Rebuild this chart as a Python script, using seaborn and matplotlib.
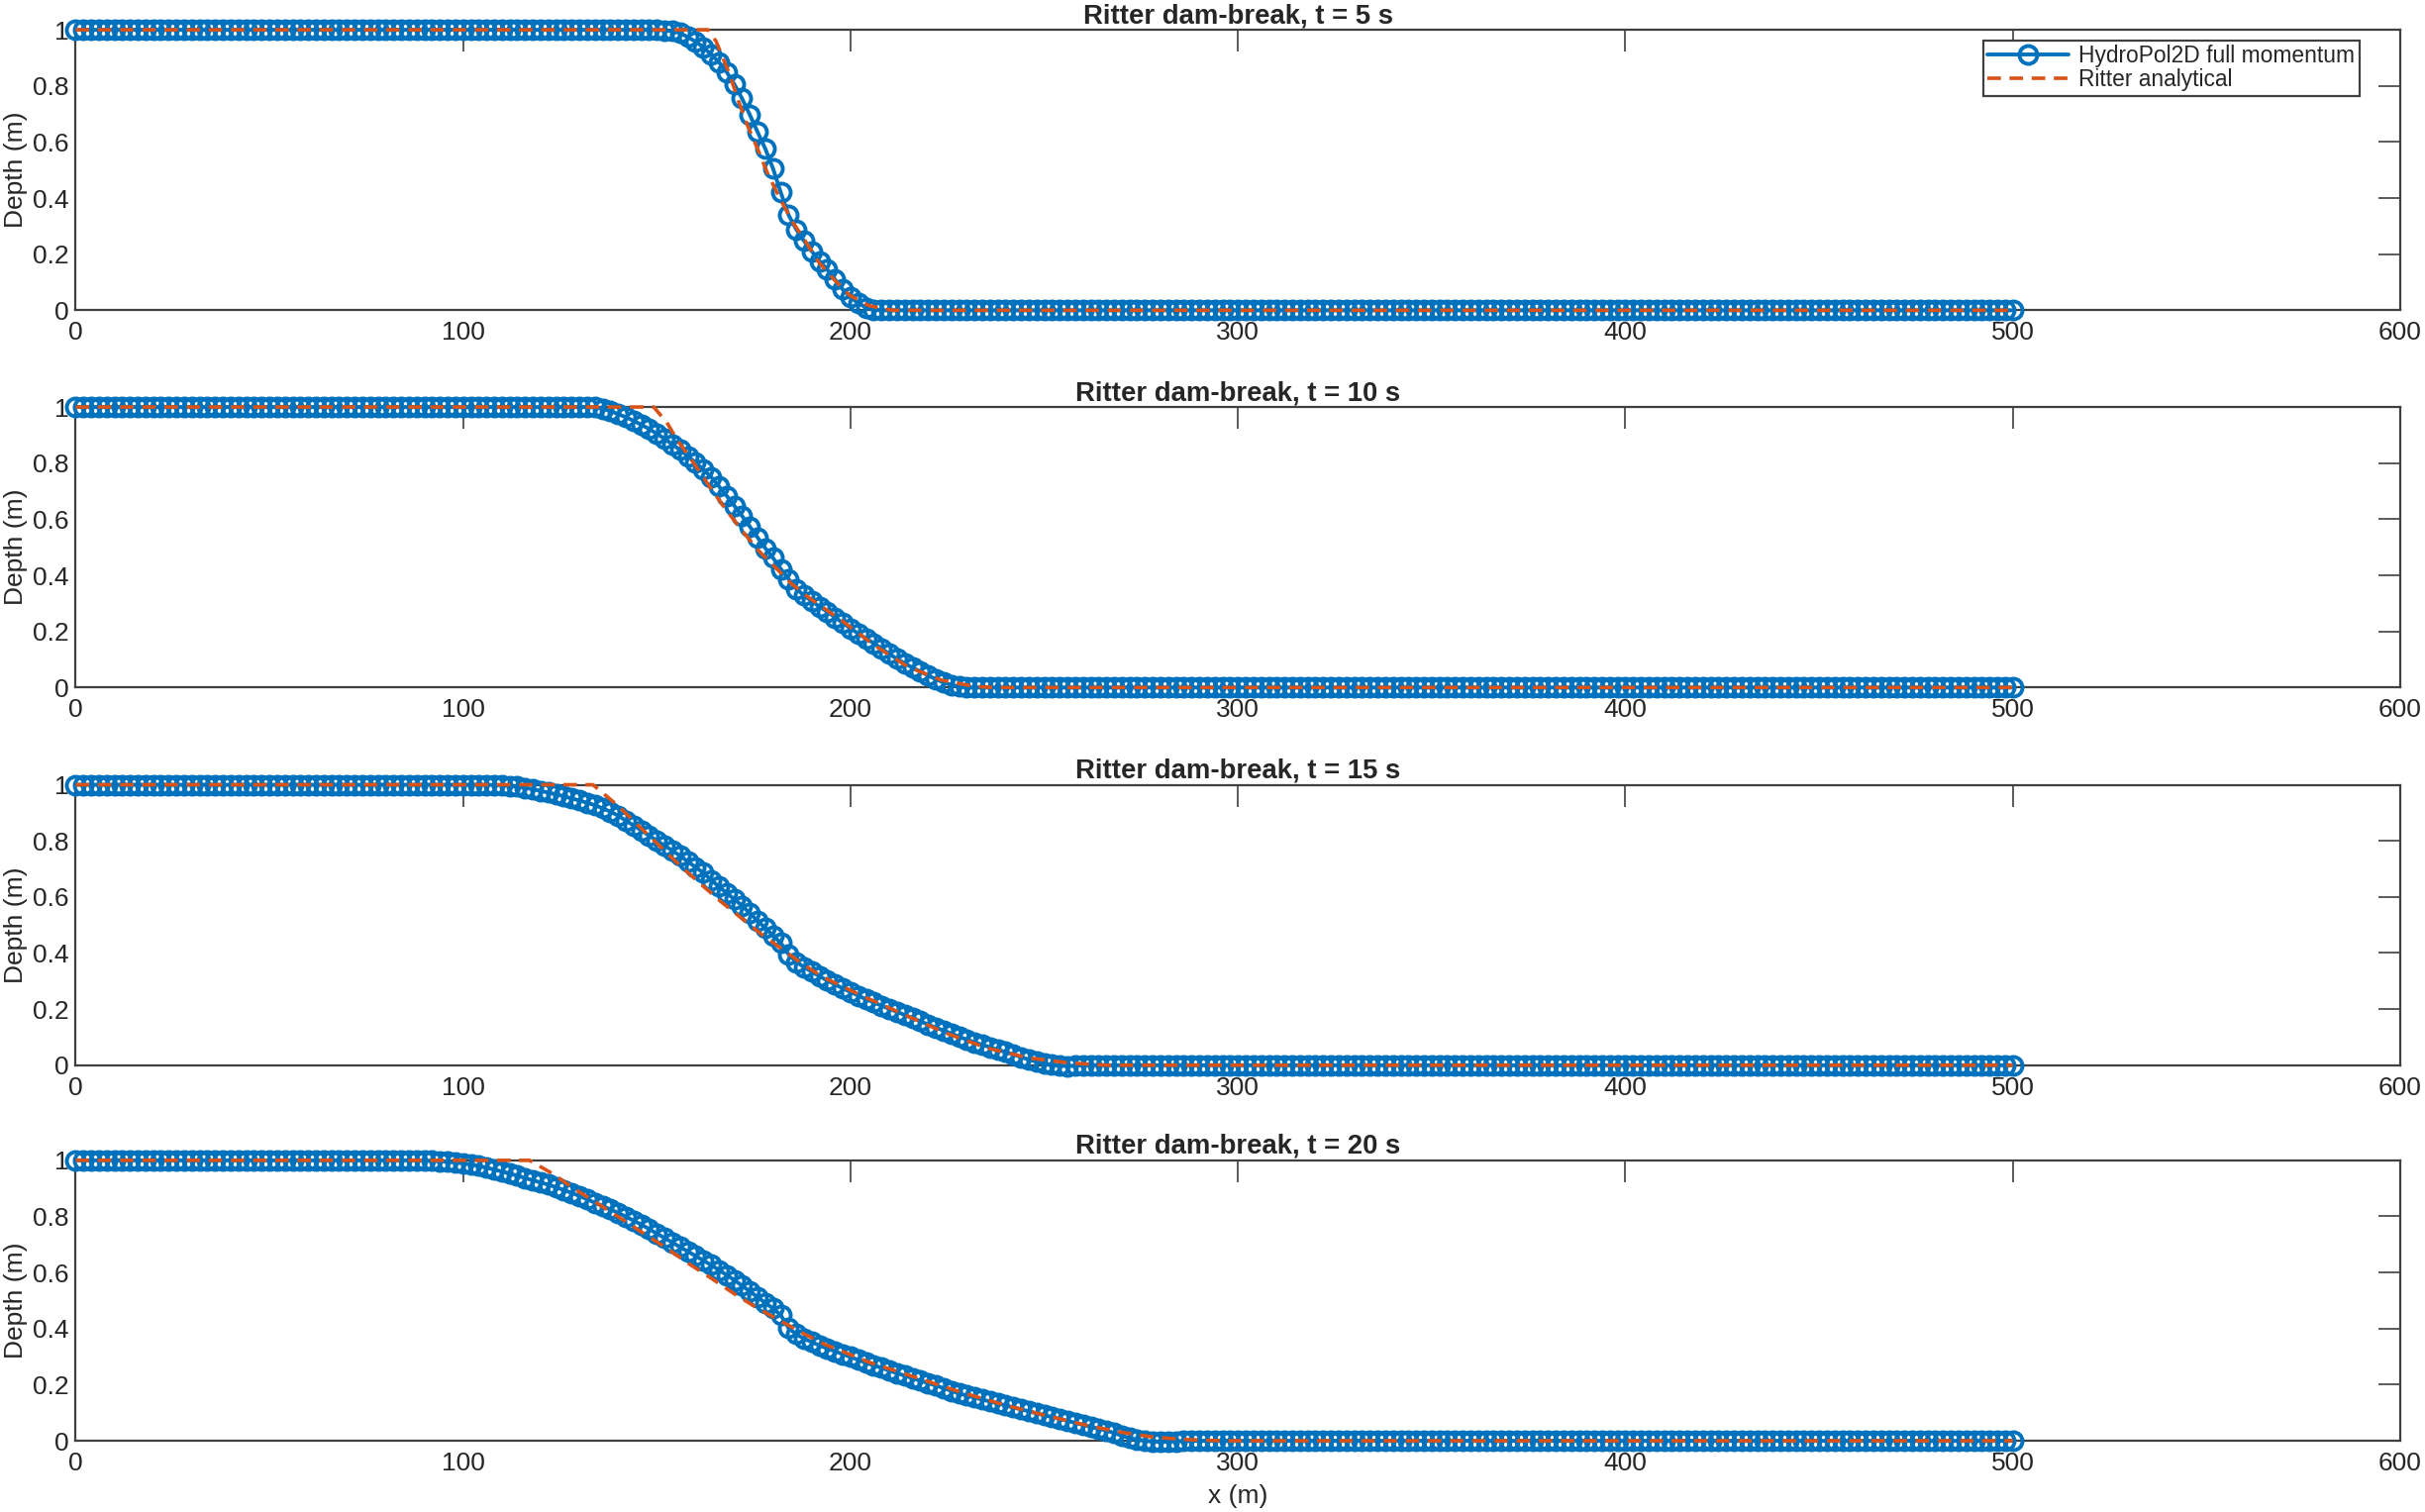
import numpy as np
import matplotlib.pyplot as plt
from matplotlib.ticker import FuncFormatter
import seaborn as sns

sns.set_theme(style="white")
plt.rcParams['font.family'] = ['Liberation Sans', 'DejaVu Sans']
plt.rcParams['font.size'] = 9.5
plt.rcParams['text.color'] = '#262626'
plt.rcParams['axes.labelcolor'] = '#262626'
plt.rcParams['xtick.color'] = '#262626'
plt.rcParams['ytick.color'] = '#262626'

times = [5, 10, 15, 20]
legend_labels = ['HydroPol2D full momentum', 'Ritter analytical']
x_ticks = [0, 100, 200, 300, 400, 500, 600]
y_ticks = [0, 0.2, 0.4, 0.6, 0.8, 1.0]

# model cells every 2 m along the channel
x_cells = np.arange(0, 501, 2)

# HydroPol2D depth through the wave, read at 2 m steps from the first x listed
wave_start = [150, 130, 100, 84]
h_t5 = [1.0, 0.998, 0.995, 0.988, 0.974, 0.958, 0.938, 0.912, 0.885, 0.850,
        0.806, 0.755, 0.697, 0.636, 0.576, 0.505, 0.420, 0.340, 0.288, 0.247,
        0.210, 0.175, 0.145, 0.110, 0.074, 0.046, 0.025, 0.010, 0.002, 0.0]
h_t10 = [1.0, 1.0, 0.999, 0.994, 0.986, 0.975, 0.964, 0.951, 0.937, 0.922,
         0.905, 0.887, 0.867, 0.847, 0.825, 0.802, 0.777, 0.751, 0.718, 0.684,
         0.648, 0.612, 0.574, 0.535, 0.497, 0.462, 0.423, 0.387, 0.352, 0.328,
         0.308, 0.288, 0.270, 0.250, 0.230, 0.211, 0.192, 0.175, 0.158, 0.139,
         0.120, 0.102, 0.086, 0.071, 0.057, 0.043, 0.030, 0.018, 0.009, 0.003,
         0.0, 0.0]
h_t15 = [1.0, 1.0, 1.0, 1.0, 0.999, 0.998, 0.996, 0.993, 0.989, 0.984,
         0.978, 0.972, 0.966, 0.959, 0.951, 0.944, 0.936, 0.927, 0.916, 0.904,
         0.890, 0.872, 0.855, 0.837, 0.819, 0.801, 0.783, 0.765, 0.747, 0.726,
         0.706, 0.686, 0.661, 0.637, 0.614, 0.592, 0.569, 0.542, 0.515, 0.489,
         0.462, 0.436, 0.395, 0.368, 0.350, 0.333, 0.317, 0.302, 0.288, 0.274,
         0.261, 0.248, 0.235, 0.224, 0.212, 0.201, 0.190, 0.179, 0.168, 0.157,
         0.145, 0.134, 0.124, 0.113, 0.102, 0.091, 0.082, 0.073, 0.064, 0.055,
         0.047, 0.038, 0.029, 0.020, 0.012, 0.005, 0.001, -0.002, -0.003, -0.002,
         0.0]
h_t20 = [1.0, 1.0, 1.0, 0.999, 0.998, 0.997, 0.995, 0.992, 0.989, 0.985,
         0.980, 0.974, 0.967, 0.960, 0.953, 0.945, 0.937, 0.929, 0.921, 0.913,
         0.904, 0.894, 0.884, 0.873, 0.861, 0.849, 0.837, 0.825, 0.813, 0.799,
         0.785, 0.771, 0.755, 0.739, 0.723, 0.707, 0.691, 0.675, 0.659, 0.643,
         0.627, 0.609, 0.591, 0.573, 0.553, 0.533, 0.512, 0.492, 0.472, 0.448,
         0.402, 0.380, 0.364, 0.352, 0.340, 0.329, 0.319, 0.309, 0.299, 0.288,
         0.278, 0.269, 0.260, 0.250, 0.241, 0.232, 0.223, 0.214, 0.206, 0.197,
         0.188, 0.178, 0.169, 0.161, 0.154, 0.147, 0.140, 0.133, 0.126, 0.119,
         0.112, 0.105, 0.098, 0.091, 0.085, 0.078, 0.071, 0.064, 0.057, 0.050,
         0.043, 0.037, 0.028, 0.018, 0.010, 0.004, 0.000, -0.003, -0.004, -0.003,
         -0.002, -0.001, 0.0]

# Ritter analytical curve, read as breakpoints
xa_t5 = [0, 163.2, 165.3, 168.8, 170.9, 173.4, 176.0, 178.6, 181.5, 184.9,
         188.3, 191.8, 195.6, 199.8, 204.5, 208.0, 211.0, 500]
ha_t5 = [1, 1, 0.959, 0.841, 0.753, 0.659, 0.576, 0.488, 0.406, 0.318,
         0.247, 0.171, 0.112, 0.053, 0.018, 0.006, 0, 0]
xa_t10 = [0, 149.2, 152.6, 155.1, 159.4, 163.7, 167.9, 172.2, 176.4, 180.7,
          184.9, 189.2, 197.7, 206.2, 214.8, 223.3, 231.8, 237.0, 500]
ha_t10 = [1, 1, 0.945, 0.886, 0.803, 0.715, 0.633, 0.556, 0.486, 0.427,
          0.368, 0.321, 0.239, 0.150, 0.074, 0.027, 0.004, 0, 0]
xa_t15 = [0, 133.5, 139.9, 145.2, 150.5, 155.8, 161.1, 166.4, 171.7, 177.0,
          182.3, 187.6, 192.9, 203.5, 214.1, 224.7, 235.3, 245.9, 256.5, 266.0, 500]
ha_t15 = [1, 1, 0.926, 0.855, 0.785, 0.714, 0.649, 0.585, 0.526, 0.467,
          0.414, 0.361, 0.314, 0.244, 0.179, 0.114, 0.061, 0.026, 0.008, 0, 0]
xa_t20 = [0, 117.1, 123.0, 128.8, 134.7, 140.6, 146.4, 152.3, 158.1, 164.0,
          169.9, 175.7, 181.6, 187.5, 193.3, 205.0, 216.8, 228.5, 240.2, 251.9,
          261.6, 270.1, 278.7, 287.2, 296.0, 500]
ha_t20 = [1, 1, 0.953, 0.898, 0.846, 0.794, 0.741, 0.689, 0.633, 0.580,
          0.525, 0.475, 0.430, 0.385, 0.344, 0.279, 0.226, 0.173, 0.126, 0.085,
          0.053, 0.030, 0.012, 0.004, 0, 0]

model_waves = [h_t5, h_t10, h_t15, h_t20]
ana_x = [xa_t5, xa_t10, xa_t15, xa_t20]
ana_h = [ha_t5, ha_t10, ha_t15, ha_t20]

blue = '#0072BD'
orange = '#D95319'
axis_col = '#404040'

fig = plt.figure(figsize=(2449 / 200, 1527 / 200), dpi=200)
bottoms = [0.7948, 0.5453, 0.2955, 0.0471]
ax_h = 0.1855

for i, t in enumerate(times):
    ax = fig.add_axes([0.0312, bottoms[i], 0.9586, ax_h])

    # full depth profile: still water upstream, wave, dry bed downstream
    n_up = int(wave_start[i] / 2)
    wave = model_waves[i]
    n_down = len(x_cells) - n_up - len(wave)
    depth = np.array([1.0] * n_up + wave + [0.0] * n_down)

    sns.lineplot(x=x_cells, y=depth, ax=ax, color=blue, linewidth=1.4,
                 marker='o', markersize=6.5, markerfacecolor='none',
                 markeredgecolor=blue, markeredgewidth=1.4,
                 clip_on=False, legend=False, zorder=3)
    sns.lineplot(x=ana_x[i], y=ana_h[i], ax=ax, color=orange, linewidth=1.3,
                 dashes=False, clip_on=False, legend=False, zorder=4)
    ax.lines[1].set_dashes((3.8, 2.4))

    ax.set_xlim(0, 600)
    ax.set_ylim(0, 1)
    ax.set_xticks(x_ticks)
    ax.set_yticks(y_ticks)
    fmt = FuncFormatter(lambda v, p: f"{v:g}")
    ax.xaxis.set_major_formatter(fmt)
    ax.yaxis.set_major_formatter(fmt)
    ax.tick_params(axis='both', direction='in', top=True, right=True,
                   length=8, width=0.6, color=axis_col, labelsize=9.5)
    ax.tick_params(axis='x', pad=4.0)
    ax.tick_params(axis='y', pad=2.6)
    for sp in ax.spines.values():
        sp.set_color(axis_col)
        sp.set_linewidth(0.8)

    ax.set_title(f"Ritter dam-break, t = {t} s", fontsize=9.9, fontweight='bold',
                 pad=2.5)
    ax.set_ylabel("Depth (m)", fontsize=9.5)
    ax.yaxis.set_label_coords(-0.0205, 0.5)

    if i == 0:
        leg = ax.legend(ax.lines[:2], legend_labels, loc='upper right',
                        bbox_to_anchor=(0.9825, 0.9625), borderaxespad=0,
                        fancybox=False, framealpha=1, edgecolor=axis_col,
                        fontsize=8.2, handlelength=3.6, labelspacing=0.05,
                        borderpad=0.2, handletextpad=0.45)
        leg.get_frame().set_linewidth(0.8)
    if i == 3:
        ax.set_xlabel("x (m)", fontsize=9.5)
        ax.xaxis.set_label_coords(0.5, -0.155)

fig.savefig('out.png', dpi=200)
